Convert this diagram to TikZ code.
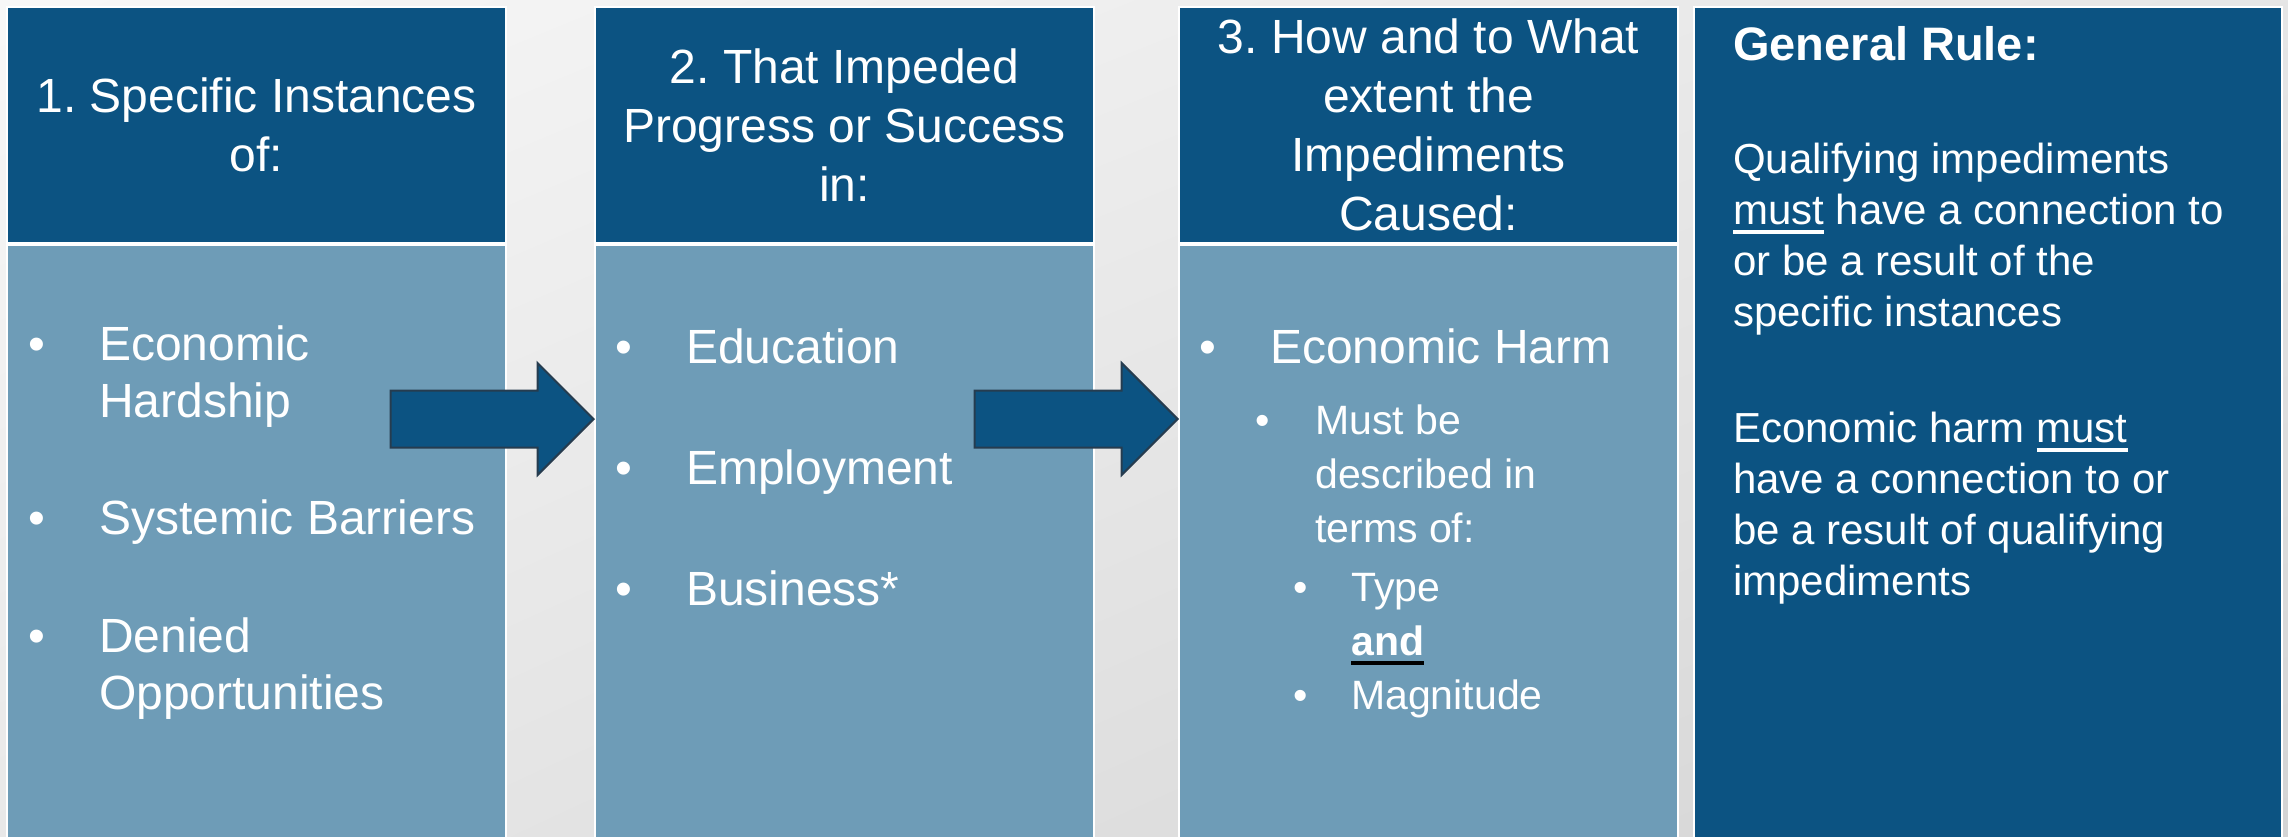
\documentclass[tikz,border=0pt]{standalone}
\usepackage{fontspec}
\setmainfont{Liberation Sans}
\usetikzlibrary{positioning,shapes.arrows,calc,shadings}
\definecolor{hdblue}{HTML}{0C5382}
\definecolor{bdblue}{HTML}{6E9CB7}
\definecolor{arrline}{HTML}{263C4F}
\frenchspacing
% bullet with a fixed hanging width, underline with its own colour
\newcommand{\bul}{\makebox[71pt][l]{\textbullet}}
\newcommand{\undr}[2]{\leavevmode\setbox0\hbox{#2}\rlap{\color{#1}\rule[-10pt]{\wd0}{4pt}}\box0\relax}
\begin{document}
\begin{tikzpicture}[x=1pt, y=-1pt,
	hdbox/.style={fill=hdblue, draw=white, line width=2pt, text=white, minimum width=499pt, minimum height=236pt, inner sep=0pt, outer sep=0pt, align=center, font=\fontsize{48}{59}\selectfont},
	bdbox/.style={fill=bdblue, draw=white, line width=2pt, minimum width=499pt, minimum height=601pt, inner sep=0pt, outer sep=0pt},
	bdtext/.style={text=white, inner sep=0pt, anchor=base west},
	blkarr/.style={single arrow, fill=hdblue, draw=arrline, line width=2pt, minimum height=203pt, inner xsep=0pt, inner ysep=27.5pt, single arrow head extend=27.5pt, single arrow tip angle=90, anchor=tip}]
	\useasboundingbox (0,0) rectangle (2288,836);
	\clip (0,0) rectangle (2288,836);
	\shade[upper left=black!3, upper right=black!10, lower left=black!9, lower right=black!17] (0,0) rectangle (2288,836);
	% column heads
	\node[hdbox, anchor=north west] (hdA) at (7,7) {1. Specific Instances\\of:};
	\node[hdbox, right=89pt of hdA] (hdB) {2. That Impeded\\Progress or Success\\in:};
	\node[hdbox, right=85pt of hdB] (hdC) {3. How and to What\\extent the\\Impediments\\Caused:};
	% column bodies
	\node[bdbox, below=2pt of hdA] (bdA) {};
	\node[bdbox, below=2pt of hdB] (bdB) {};
	\node[bdbox, below=2pt of hdC] (bdC) {};
	\node[fill=hdblue, draw=white, line width=2pt, minimum width=588pt, minimum height=840pt, inner sep=0pt, outer sep=0pt, anchor=north west] (gnrl) at ($(hdC.north east)+(16,0)$) {};
	% block arrows
	\coordinate (lvl) at (0,419);
	\node[blkarr] (arrA) at (bdB.west |- lvl) {};
	\node[blkarr] (arrB) at (bdC.west |- lvl) {};
	% texts
	\node[bdtext] (txA) at ($(bdA.north west)+(21,115)$) {\parbox[t]{470pt}{\fontsize{48}{57}\selectfont
		\bul Economic\\ \hspace*{71pt}Hardship\\[60pt]
		\bul Systemic Barriers\\[61pt]
		\bul Denied\\ \hspace*{71pt}Opportunities}};
	\node[bdtext] (txB) at ($(bdB.north west)+(20,118)$) {\parbox[t]{470pt}{\fontsize{48}{57}\selectfont
		\bul Education\\[64pt]
		\bul Employment\\[64pt]
		\bul Business*}};
	\node[bdtext] (txC) at ($(bdC.north west)+(20,118)$) {\parbox[t]{470pt}{%
		{\fontsize{48}{57}\selectfont\bul Economic Harm\par}
		\vspace{17pt}
		{\fontsize{41}{54}\selectfont
		\hspace*{56pt}\makebox[60pt][l]{\textbullet}Must be\\
		\hspace*{116pt}described in\\
		\hspace*{116pt}terms of:\\[5pt]
		\hspace*{94pt}\makebox[58pt][l]{\textbullet}Type\\
		\hspace*{152pt}\undr{black}{\textbf{and}}\\
		\hspace*{94pt}\makebox[58pt][l]{\textbullet}Magnitude\par}}};
	\node[bdtext] (txD) at ($(gnrl.north west)+(39,53)$) {\parbox[t]{540pt}{%
		{\fontsize{47}{57}\selectfont\bfseries General Rule:\par}
		\vspace{62pt}
		{\fontsize{42}{51}\selectfont
		Qualifying impediments\\
		\undr{white}{must} have a connection to\\
		or be a result of the\\
		specific instances\\[65pt]
		Economic harm \undr{white}{must}\\
		have a connection to or\\
		be a result of qualifying\\
		impediments\par}}};
\end{tikzpicture}
\end{document}
